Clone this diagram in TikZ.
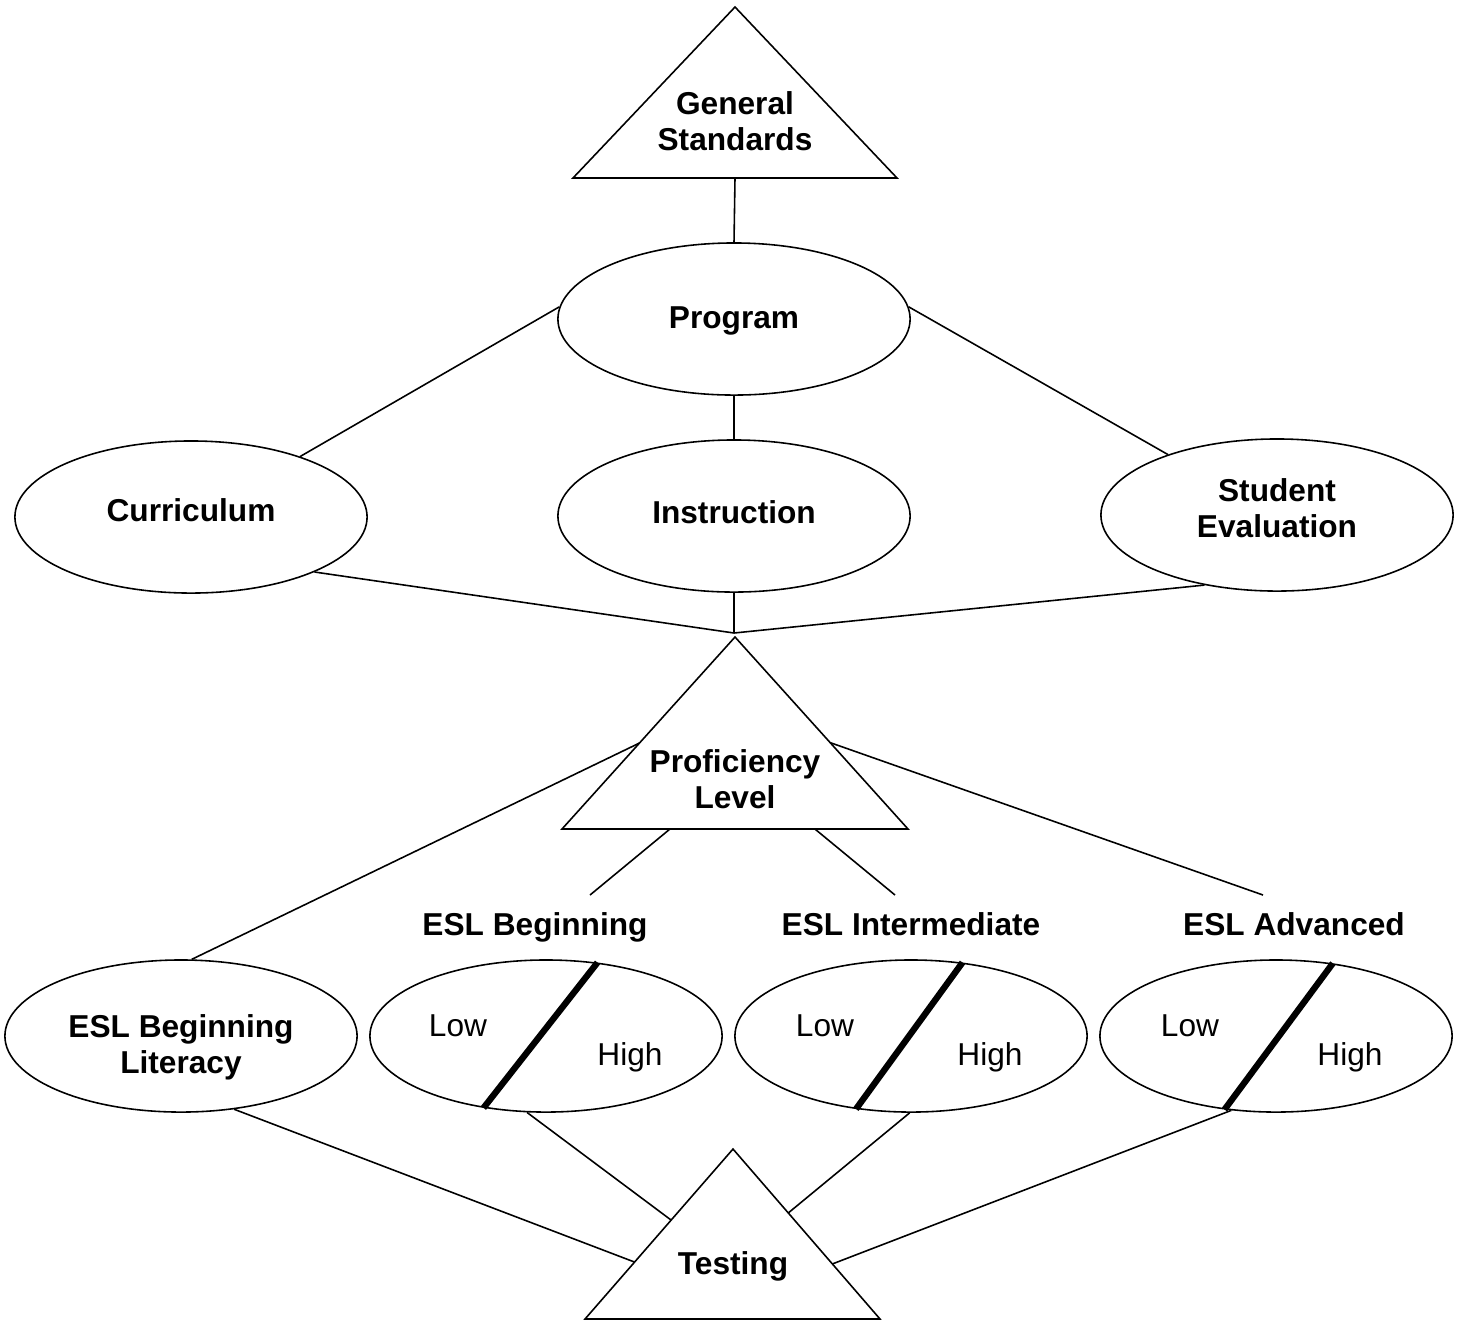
\documentclass[tikz,border=0pt]{standalone}
\usepackage{fontspec}
\setmainfont{Liberation Sans}
\usetikzlibrary{shapes.geometric,calc}

\tikzset{
  oval/.style={ellipse, draw, line width=0.45pt, minimum width=3.52cm, minimum height=1.52cm,
    inner sep=0pt},
  tri/.style={draw, line width=0.45pt, line join=miter},
  title/.style={font=\fontsize{9}{10.25}\selectfont\bfseries, align=center},
  band/.style={font=\fontsize{9}{10.25}\selectfont, anchor=base},
  link/.style={line width=0.45pt},
  divider/.style={line width=1.8pt},
}

\begin{document}
\begin{tikzpicture}[x=0.01cm, y=-0.01cm]
  \useasboundingbox (0,0) rectangle (1461,1320);

  % General standards
  \coordinate (gsTop) at (735,7);
  \coordinate (gsL) at (573,178);
  \coordinate (gsR) at (897,178);
  \coordinate (gsBase) at (735,178);
  \draw[tri] (gsTop) -- (gsR) -- (gsL) -- cycle;
  \node[title] (gs) at (735,121) {General\\Standards};

  % Program level
  \node[oval] (prog) at (734,319) {};
  \node[oval] (curr) at (191,517) {};
  \node[oval] (inst) at (734,516) {};
  \node[oval] (eval) at (1277,515) {};
  \node[title] (progText) at (734,321) {Program};
  \node[title] (currText) at (191,510) {Curriculum};
  \node[title] (instText) at (734,512) {Instruction};
  \node[title] (evalText) at (1277,508) {Student\\Evaluation};
  \coordinate (join) at (734,633);

  \draw[link] (gsBase) -- (prog.north);
  \draw[link] (prog.176) -- (curr.29);
  \draw[link] (prog.4) -- (eval.151);
  \draw[link] (prog.south) -- (inst.north);
  \draw[link] (curr.336) -- (join);
  \draw[link] (eval.224) -- (join);
  \draw[link] (inst.south) -- (join);

  % Proficiency level
  \coordinate (plTop) at (735,637);
  \coordinate (plL) at (562,829);
  \coordinate (plR) at (908,829);
  \draw[tri] (plTop) -- (plR) -- (plL) -- cycle;
  \node[title] (pl) at (735,779) {Proficiency\\Level};

  % Levels
  \node[oval] (lit) at (181,1036) {};
  \node[oval] (beg) at (546,1036) {};
  \node[oval] (mid) at (911,1036) {};
  \node[oval] (adv) at (1276,1036) {};
  \node[title] (litText) at (181,1047) {ESL Beginning\\Literacy};

  \node[title, anchor=base] (begLbl) at (535,935) {ESL Beginning};
  \node[title, anchor=base] (midLbl) at (911,935) {ESL Intermediate};
  \node[title, anchor=base] (advLbl) at (1294,935) {ESL Advanced};

  \coordinate (begArm) at (590,895);
  \coordinate (midArm) at (895,895);
  \coordinate (advArm) at (1263,895);

  \draw[link] ($(plTop)!0.552!(plL)$) -- (lit.82);
  \draw[link] ($(plL)!0.312!(plR)$) -- (begArm);
  \draw[link] ($(plL)!0.731!(plR)$) -- (midArm);
  \draw[link] ($(plTop)!0.55!(plR)$) -- (advArm);

  % Low / High split
  \draw[divider] (beg.55) -- (beg.229);
  \draw[divider] (mid.55) -- (mid.233);
  \draw[divider] (adv.52) -- (adv.235);
  \node[band] (begLow) at (458,1036) {Low};
  \node[band] (begHigh) at (630,1065) {High};
  \node[band] (midLow) at (825,1036) {Low};
  \node[band] (midHigh) at (990,1065) {High};
  \node[band] (advLow) at (1190,1036) {Low};
  \node[band] (advHigh) at (1350,1065) {High};

  % Testing
  \coordinate (tsTop) at (733,1149);
  \coordinate (tsL) at (585,1319);
  \coordinate (tsR) at (880,1319);
  \draw[tri] (tsTop) -- (tsR) -- (tsL) -- cycle;
  \node[title] (ts) at (733,1266) {Testing};

  \draw[link] (lit.306) -- ($(tsTop)!0.665!(tsL)$);
  \draw[link] (beg.256) -- ($(tsTop)!0.418!(tsL)$);
  \draw[link] (mid.269) -- ($(tsTop)!0.376!(tsR)$);
  \draw[link] (adv.239) -- ($(tsTop)!0.676!(tsR)$);
\end{tikzpicture}
\end{document}
